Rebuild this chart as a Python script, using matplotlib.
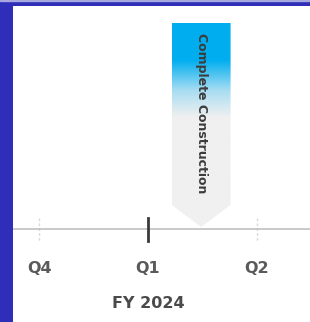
import numpy as np
import matplotlib.pyplot as plt
from matplotlib.patches import Polygon, Rectangle
from matplotlib.colors import LinearSegmentedColormap

# timeline data (x in quarters, Q4 FY2023 = 0)
quarters = ['Q4', 'Q1', 'Q2']
quarter_pos = [0, 1, 2]
current_q = 1
year_label = 'FY 2024'
milestone = 'Complete Construction'
milestone_pos = 1.49

W, H = 310, 322
fig = plt.figure(figsize=(W/100, H/100), dpi=100)
fig.patch.set_facecolor('#2E2EB8')
# thin light strip at the very top
fig.patches.append(Rectangle((0, (H-1)/H), 1, 1/H, transform=fig.transFigure,
                             color='#A8A8E0', zorder=0))

left, top = 13, 6
ax = fig.add_axes([left/W, 0, (W-left)/W, (H-top)/H])
ax.set_facecolor('white')
ax.set_xlim(-0.24, 2.49)
ax.set_ylim(H, top)   # y in pixel rows
for s in ax.spines.values():
    s.set_visible(False)
ax.set_xticks([]); ax.set_yticks([])

axis_y = 229
ax.axhline(axis_y, color='#C0C0C0', lw=1.2, zorder=2)

for q, x in zip(quarters, quarter_pos):
    if x == current_q:
        ax.plot([x, x], [218, 241], color='#3A3A3A', lw=2, zorder=3)
    else:
        ax.plot([x, x], [218, 241], color='#DADADA', lw=1, ls=(0, (2, 1.5)), zorder=1)
    ax.text(x, 268, q, ha='center', va='center', fontsize=11.5, fontweight='bold',
            color='#5A5A5A', family='DejaVu Sans')
ax.text(current_q, 303, year_label, ha='center', va='center', fontsize=11.5,
        fontweight='bold', color='#4A4A4A', family='DejaVu Sans')

# milestone banner with gradient
half_w = 0.27
x0, x1 = milestone_pos - half_w, milestone_pos + half_w
y_top, y_rect, y_tip = 23, 205, 227
pts = [(x0, y_top), (x1, y_top), (x1, y_rect), (milestone_pos, y_tip), (x0, y_rect)]
poly = Polygon(pts, closed=True, facecolor='none', edgecolor='none')
ax.add_patch(poly)
cmap = LinearSegmentedColormap.from_list('g', [(0, '#00AEEF'), (0.18, '#00AEEF'),
                                               (0.33, '#A8DDF3'), (0.46, '#F0F0F0'),
                                               (1, '#F0F0F0')])
grad = np.linspace(0, 1, 256).reshape(-1, 1)
im = ax.imshow(grad, cmap=cmap, aspect='auto', extent=[x0, x1, y_tip, y_top],
               origin='upper', zorder=2)
im.set_clip_path(poly)
ax.text(milestone_pos, 33, milestone, rotation=-90, ha='center', va='top',
        fontsize=9, fontweight='bold', color='#3C3C3C', family='DejaVu Sans', zorder=4)

fig.savefig('out.png', dpi=100, facecolor=fig.get_facecolor())
